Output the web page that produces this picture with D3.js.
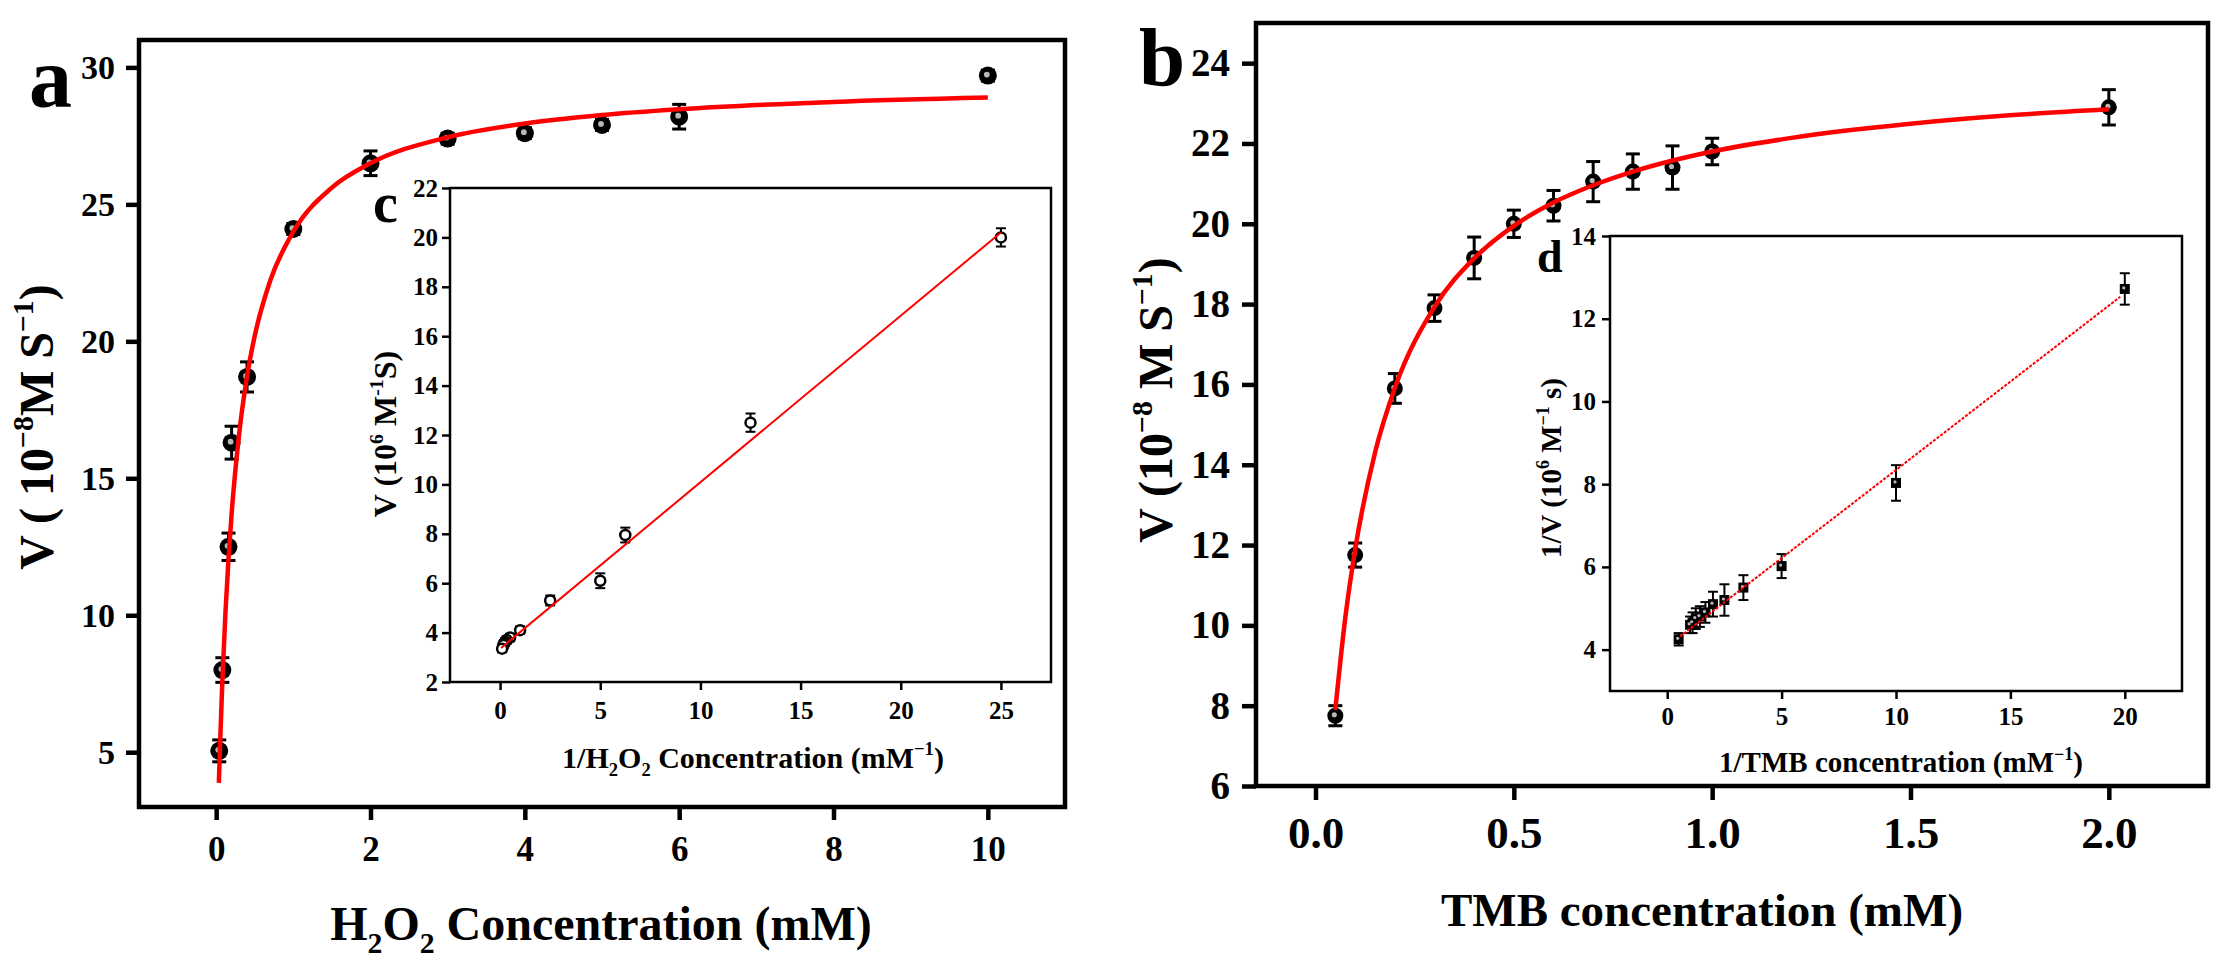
<!DOCTYPE html>
<html>
<head>
<meta charset="utf-8">
<title>Steady-state kinetics: H2O2 and TMB</title>
<script src="https://cdn.jsdelivr.net/npm/d3@7"></script>
<style>
  body { margin: 0; background: #fff; }
  svg { display: block; font-family: "Liberation Serif", "Times New Roman", serif; font-weight: bold; }
</style>
</head>
<body>
<svg id="chart" width="2231" height="971"></svg>
<script>
// ---- panel a : rate vs H2O2 concentration ----
var h2o2Conc = [0.04, 0.08, 0.16, 0.2, 0.4, 1, 2, 3, 4, 5, 6, 10];
var h2o2Rate = [5.05, 8.0, 12.5, 16.3, 18.7, 24.1, 26.5, 27.4, 27.6, 27.9, 28.2, 29.7];
var h2o2Err  = [0.4, 0.45, 0.5, 0.6, 0.55, 0.2, 0.45, 0.2, 0.2, 0.2, 0.45, 0.2];
// red fit curve
var h2o2FitX = [0.035, 0.05, 0.08, 0.12, 0.16, 0.2, 0.3, 0.4, 0.5, 0.7, 1, 1.5, 2, 3, 4, 5, 6, 8, 10];
var h2o2FitY = [3.88, 5.24, 7.58, 10.08, 12.07, 13.69, 16.67, 18.72, 20.2, 22.21, 24.0, 25.61, 26.5, 27.45, 27.95, 28.26, 28.47, 28.74, 28.9];
var aTicksX = [0, 2, 4, 6, 8, 10];
var aTicksY = [5, 10, 15, 20, 25, 30];

// ---- inset c : double reciprocal for H2O2 ----
var invH2o2X = [25, 12.5, 6.25, 5, 2.5, 1, 0.5, 0.33, 0.25, 0.2, 0.17, 0.1];
var invH2o2Y = [20.0, 12.5, 7.95, 6.1, 5.3, 4.1, 3.8, 3.7, 3.62, 3.55, 3.5, 3.35];
var invH2o2Err = [0.37, 0.37, 0.3, 0.3, 0.2, 0.15, 0.15, 0.15, 0.15, 0.15, 0.15, 0.15];
var invH2o2FitX = [0.05, 25];
var invH2o2FitY = [3.38, 20.2];
var cTicksX = [0, 5, 10, 15, 20, 25];
var cTicksY = [2, 4, 6, 8, 10, 12, 14, 16, 18, 20, 22];

// ---- panel b : rate vs TMB concentration ----
var tmbConc = [0.05, 0.1, 0.2, 0.3, 0.4, 0.5, 0.6, 0.7, 0.8, 0.9, 1.0, 2.0];
var tmbRate = [7.75, 11.75, 15.9, 17.9, 19.15, 20.0, 20.45, 21.05, 21.3, 21.4, 21.8, 22.9];
var tmbErr  = [0.25, 0.3, 0.37, 0.33, 0.52, 0.34, 0.38, 0.5, 0.44, 0.54, 0.33, 0.44];
var tmbFitX = [0.05, 0.075, 0.1, 0.15, 0.2, 0.3, 0.4, 0.5, 0.6, 0.7, 0.8, 1.0, 1.2, 1.5, 1.75, 2.0];
var tmbFitY = [7.9, 10.18, 11.89, 14.3, 15.91, 17.93, 19.14, 19.95, 20.53, 20.96, 21.3, 21.8, 22.14, 22.49, 22.7, 22.85];
var bTicksX = [0, 0.5, 1.0, 1.5, 2.0];
var bTicksY = [6, 8, 10, 12, 14, 16, 18, 20, 22, 24];

// ---- inset d : double reciprocal for TMB ----
var invTmbX = [20, 10, 5, 3.33, 2.5, 2, 1.67, 1.43, 1.25, 1.11, 1.0, 0.5];
var invTmbY = [12.72, 8.03, 6.02, 5.5, 5.2, 5.1, 4.9, 4.8, 4.75, 4.65, 4.6, 4.25];
var invTmbErr = [0.38, 0.43, 0.29, 0.3, 0.38, 0.3, 0.25, 0.25, 0.25, 0.25, 0.2, 0.15];
var invTmbFitX = [0.57, 19.8];
var invTmbFitY = [4.32, 12.53];
var dTicksX = [0, 5, 10, 15, 20];
var dTicksY = [4, 6, 8, 10, 12, 14];

var svg = d3.select('#chart');

// text with sub/superscripts: parts = [[text, 'sup'|'sub'|null], ...]
function richText(sel, parts, fs) {
  var shift = 0;
  parts.forEach(function (p) {
    var s = p[1] === 'sup' ? -0.42 * fs : p[1] === 'sub' ? 0.28 * fs : 0;
    sel.append('tspan')
      .attr('dy', s - shift)
      .attr('font-size', p[1] ? fs * 0.62 : fs)
      .text(p[0]);
    shift = s;
  });
  return sel;
}

function panel(p) {
  var x = d3.scaleLinear().domain(p.xDomain).range([p.left, p.right]);
  var y = d3.scaleLinear().domain(p.yDomain).range([p.bottom, p.top]);
  var g = svg.append('g');

  g.append('rect')
    .attr('x', p.left).attr('y', p.top)
    .attr('width', p.right - p.left).attr('height', p.bottom - p.top)
    .attr('fill', '#fff').attr('stroke', '#000').attr('stroke-width', p.frameWidth);

  var ax = g.append('g')
    .attr('transform', 'translate(0,' + p.bottom + ')')
    .call(d3.axisBottom(x).tickValues(p.xTicks).tickFormat(p.xFormat)
      .tickSize(p.tickLen).tickPadding(p.xPad).tickSizeOuter(0));
  var ay = g.append('g')
    .attr('transform', 'translate(' + p.left + ',0)')
    .call(d3.axisLeft(y).tickValues(p.yTicks).tickFormat(d3.format('d'))
      .tickSize(p.tickLen).tickPadding(p.yPad).tickSizeOuter(0));
  [ax, ay].forEach(function (a) {
    a.attr('font-family', null).attr('font-size', null);
    a.select('.domain').remove();
    a.selectAll('.tick line').attr('stroke-width', p.tickWidth);
  });
  ax.selectAll('text').attr('font-size', p.xFont);
  ay.selectAll('text').attr('font-size', p.yFont);

  var pts = p.xs.map(function (d, i) { return { x: d, y: p.ys[i], e: p.err[i] }; });

  // error bars
  var eb = g.append('g').attr('stroke', '#000').attr('stroke-width', p.errWidth);
  eb.selectAll('.bar').data(pts).enter().append('line')
    .attr('x1', d => x(d.x)).attr('x2', d => x(d.x))
    .attr('y1', d => y(d.y - d.e)).attr('y2', d => y(d.y + d.e));
  eb.selectAll('.capT').data(pts).enter().append('line')
    .attr('x1', d => x(d.x) - p.cap).attr('x2', d => x(d.x) + p.cap)
    .attr('y1', d => y(d.y + d.e)).attr('y2', d => y(d.y + d.e));
  eb.selectAll('.capB').data(pts).enter().append('line')
    .attr('x1', d => x(d.x) - p.cap).attr('x2', d => x(d.x) + p.cap)
    .attr('y1', d => y(d.y - d.e)).attr('y2', d => y(d.y - d.e));

  // markers
  if (p.marker === 'square') {
    g.selectAll('.mk').data(pts).enter().append('rect')
      .attr('x', d => x(d.x) - p.size).attr('y', d => y(d.y) - p.size)
      .attr('width', 2 * p.size).attr('height', 2 * p.size).attr('fill', '#000');
  } else if (p.marker === 'open') {
    g.selectAll('.mk').data(pts).enter().append('circle')
      .attr('cx', d => x(d.x)).attr('cy', d => y(d.y)).attr('r', p.size)
      .attr('fill', '#fff').attr('stroke', '#000').attr('stroke-width', 2.5);
  } else {
    g.selectAll('.mk').data(pts).enter().append('circle')
      .attr('cx', d => x(d.x)).attr('cy', d => y(d.y)).attr('r', p.size).attr('fill', '#000');
  }
  if (p.marker !== 'open') {
    g.selectAll('.dot').data(pts).enter().append('circle')
      .attr('cx', d => x(d.x) - 1).attr('cy', d => y(d.y) - 1).attr('r', p.size * 0.32)
      .attr('fill', '#b8b8b8');
  }

  // fit
  var fit = p.fitX.map(function (d, i) { return [d, p.fitY[i]]; });
  g.append('path')
    .datum(fit)
    .attr('fill', 'none').attr('stroke', '#ff0000')
    .attr('stroke-width', p.fitWidth)
    .attr('stroke-dasharray', p.fitDash || null)
    .attr('d', d3.line().x(d => x(d[0])).y(d => y(d[1])).curve(d3.curveMonotoneX));

  return g;
}

// panel a
panel({
  left: 139, right: 1065, top: 40, bottom: 807,
  xDomain: [-1, 11], yDomain: [3, 31], xTicks: aTicksX, yTicks: aTicksY,
  xFormat: d3.format('d'), frameWidth: 4.5, tickLen: 13, tickWidth: 4.5,
  xPad: 16, yPad: 11, xFont: 35, yFont: 34,
  xs: h2o2Conc, ys: h2o2Rate, err: h2o2Err, errWidth: 3, cap: 7,
  marker: 'filled', size: 9, fitX: h2o2FitX, fitY: h2o2FitY, fitWidth: 4.5
});

// inset c
panel({
  left: 450, right: 1051, top: 188, bottom: 682,
  xDomain: [-2.5, 27.5], yDomain: [2, 22], xTicks: cTicksX, yTicks: cTicksY,
  xFormat: d3.format('d'), frameWidth: 2.5, tickLen: 8, tickWidth: 2.5,
  xPad: 11, yPad: 4, xFont: 25, yFont: 25,
  xs: invH2o2X, ys: invH2o2Y, err: invH2o2Err, errWidth: 2, cap: 5,
  marker: 'open', size: 5, fitX: invH2o2FitX, fitY: invH2o2FitY, fitWidth: 2
});

// panel b
panel({
  left: 1256, right: 2208, top: 23, bottom: 786,
  xDomain: [-0.15, 2.25], yDomain: [6, 25], xTicks: bTicksX, yTicks: bTicksY,
  xFormat: d3.format('.1f'), frameWidth: 4.5, tickLen: 14, tickWidth: 4.5,
  xPad: 16, yPad: 12, xFont: 45, yFont: 39,
  xs: tmbConc, ys: tmbRate, err: tmbErr, errWidth: 3, cap: 7,
  marker: 'filled', size: 8, fitX: tmbFitX, fitY: tmbFitY, fitWidth: 4.5
});

// inset d
panel({
  left: 1610, right: 2182, top: 236, bottom: 691,
  xDomain: [-2.5, 22.5], yDomain: [3, 14], xTicks: dTicksX, yTicks: dTicksY,
  xFormat: d3.format('d'), frameWidth: 2.5, tickLen: 8, tickWidth: 2.5,
  xPad: 8, yPad: 6, xFont: 25, yFont: 25,
  xs: invTmbX, ys: invTmbY, err: invTmbErr, errWidth: 2, cap: 5,
  marker: 'square', size: 5, fitX: invTmbFitX, fitY: invTmbFitY, fitWidth: 2, fitDash: '3,1.5'
});

// axis titles
var labels = svg.append('g').attr('fill', '#000');

richText(labels.append('text').attr('x', 601).attr('y', 940).attr('text-anchor', 'middle'),
  [['H', null], ['2', 'sub'], ['O', null], ['2', 'sub'], [' Concentration (mM)', null]], 48);
richText(labels.append('text').attr('transform', 'translate(53,427) rotate(-90)').attr('text-anchor', 'middle'),
  [['V ( 10', null], ['\u22128', 'sup'], ['M S', null], ['\u22121', 'sup'], [')', null]], 48);

richText(labels.append('text').attr('x', 1702).attr('y', 926).attr('text-anchor', 'middle'),
  [['TMB concentration (mM)', null]], 47);
richText(labels.append('text').attr('transform', 'translate(1172,400) rotate(-90)').attr('text-anchor', 'middle'),
  [['V (10', null], ['\u22128', 'sup'], [' M S', null], ['\u22121', 'sup'], [')', null]], 48);

richText(labels.append('text').attr('x', 753).attr('y', 768).attr('text-anchor', 'middle'),
  [['1/H', null], ['2', 'sub'], ['O', null], ['2', 'sub'], [' Concentration (mM', null], ['\u22121', 'sup'], [')', null]], 30);
richText(labels.append('text').attr('transform', 'translate(396,434) rotate(-90)').attr('text-anchor', 'middle'),
  [['V (10', null], ['6', 'sup'], [' M', null], ['-1', 'sup'], ['S)', null]], 32);

richText(labels.append('text').attr('x', 1901).attr('y', 772).attr('text-anchor', 'middle'),
  [['1/TMB concentration (mM', null], ['\u22121', 'sup'], [')', null]], 29);
richText(labels.append('text').attr('transform', 'translate(1561,468) rotate(-90)').attr('text-anchor', 'middle'),
  [['1/V (10', null], ['6', 'sup'], [' M', null], ['\u22121', 'sup'], [' s)', null]], 29);

// panel letters
labels.append('text').attr('x', 29).attr('y', 107).attr('font-size', 86).text('a');
labels.append('text').attr('x', 1139).attr('y', 85).attr('font-size', 83).text('b');
labels.append('text').attr('x', 373).attr('y', 222).attr('font-size', 56).text('c');
labels.append('text').attr('x', 1537).attr('y', 272).attr('font-size', 46).text('d');
</script>
</body>
</html>
